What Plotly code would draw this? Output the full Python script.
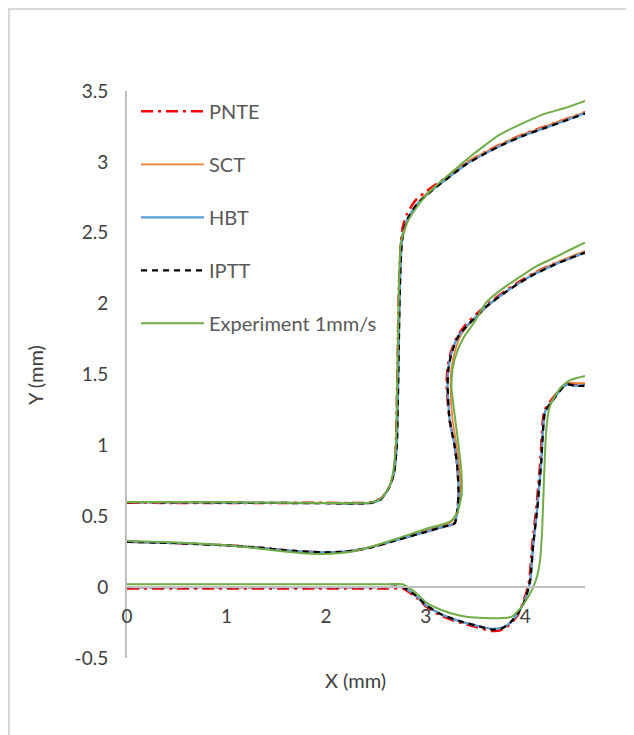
import plotly.graph_objects as go

# ---------------- data ----------------
SERIES = ["PNTE", "SCT", "HBT", "IPTT", "Experiment 1mm/s"]

# IPTT
IPTT_TOP_X = [0, 0.5, 1.0, 1.5, 2.0, 2.3, 2.45, 2.55, 2.63, 2.68, 2.71, 2.72, 2.73, 2.74, 2.76, 2.78, 2.82, 2.91, 3.0, 3.1, 3.25, 3.4, 3.6, 3.8, 4.0, 4.2, 4.4, 4.6]
IPTT_TOP_Y = [0.60, 0.598, 0.596, 0.594, 0.592, 0.59, 0.595, 0.62, 0.70, 0.80, 1.0, 1.3, 1.7, 2.1, 2.43, 2.52, 2.60, 2.70, 2.76, 2.82, 2.90, 2.98, 3.06, 3.13, 3.19, 3.24, 3.29, 3.34]
IPTT_MID_X = [0, 0.5, 1.0, 1.3, 1.6, 1.8, 2.05, 2.25, 2.45, 2.7, 3.0, 3.2, 3.29, 3.31, 3.33, 3.32, 3.29, 3.24, 3.22, 3.23, 3.26, 3.32, 3.41, 3.51, 3.61, 3.8, 3.95, 4.1, 4.28, 4.45, 4.6]
IPTT_MID_Y = [0.32, 0.31, 0.295, 0.28, 0.26, 0.25, 0.245, 0.255, 0.28, 0.33, 0.39, 0.43, 0.45, 0.50, 0.65, 0.83, 1.0, 1.18, 1.42, 1.55, 1.65, 1.76, 1.84, 1.91, 1.98, 2.08, 2.15, 2.21, 2.27, 2.32, 2.36]
IPTT_BOT_X = [0, 1.0, 2.0, 2.6, 2.77, 2.9, 3.01, 3.15, 3.34, 3.5, 3.67, 3.77, 3.85, 3.93, 3.98, 4.02, 4.05, 4.08, 4.12, 4.16, 4.20, 4.26, 4.32, 4.38, 4.43, 4.5, 4.6]
IPTT_BOT_Y = [0.0, 0.0, 0.0, 0.0, 0.0, -0.06, -0.13, -0.19, -0.24, -0.27, -0.30, -0.29, -0.25, -0.18, -0.12, -0.04, 0.05, 0.30, 0.55, 0.88, 1.24, 1.30, 1.36, 1.41, 1.43, 1.42, 1.42]

# HBT
HBT_TOP_X = [0, 0.5, 1.0, 1.5, 2.0, 2.3, 2.45, 2.55, 2.63, 2.68, 2.71, 2.72, 2.73, 2.74, 2.76, 2.78, 2.82, 2.91, 3.0, 3.1, 3.25, 3.4, 3.6, 3.8, 4.0, 4.2, 4.4, 4.6]
HBT_TOP_Y = [0.60, 0.598, 0.596, 0.594, 0.592, 0.59, 0.595, 0.62, 0.70, 0.80, 1.0, 1.3, 1.7, 2.1, 2.43, 2.52, 2.60, 2.70, 2.76, 2.82, 2.90, 2.98, 3.06, 3.13, 3.19, 3.24, 3.29, 3.345]
HBT_MID_X = [0, 0.5, 1.0, 1.3, 1.6, 1.8, 2.05, 2.25, 2.45, 2.7, 3.0, 3.2, 3.29, 3.31, 3.33, 3.32, 3.29, 3.24, 3.22, 3.23, 3.26, 3.32, 3.41, 3.51, 3.61, 3.8, 3.95, 4.1, 4.28, 4.45, 4.6]
HBT_MID_Y = [0.32, 0.31, 0.295, 0.28, 0.26, 0.25, 0.245, 0.255, 0.28, 0.33, 0.39, 0.43, 0.45, 0.50, 0.65, 0.83, 1.0, 1.18, 1.42, 1.55, 1.65, 1.76, 1.84, 1.91, 1.98, 2.08, 2.15, 2.21, 2.27, 2.32, 2.36]
HBT_BOT_X = [0, 1.0, 2.0, 2.6, 2.77, 2.9, 3.01, 3.15, 3.34, 3.5, 3.67, 3.77, 3.85, 3.93, 3.98, 4.02, 4.05, 4.08, 4.12, 4.16, 4.20, 4.26, 4.32, 4.38, 4.43, 4.5, 4.6]
HBT_BOT_Y = [0.0, 0.0, 0.0, 0.0, 0.0, -0.06, -0.13, -0.19, -0.24, -0.27, -0.295, -0.285, -0.25, -0.18, -0.12, -0.04, 0.05, 0.30, 0.55, 0.88, 1.24, 1.30, 1.36, 1.41, 1.43, 1.42, 1.425]

# SCT
SCT_TOP_X = [0, 0.5, 1.0, 1.5, 2.0, 2.3, 2.45, 2.55, 2.63, 2.68, 2.71, 2.72, 2.73, 2.74, 2.76, 2.79, 2.83, 2.91, 3.0, 3.1, 3.25, 3.4, 3.6, 3.8, 4.0, 4.2, 4.4, 4.6]
SCT_TOP_Y = [0.60, 0.598, 0.596, 0.594, 0.592, 0.59, 0.595, 0.62, 0.70, 0.80, 1.0, 1.3, 1.7, 2.1, 2.43, 2.52, 2.60, 2.70, 2.77, 2.83, 2.91, 2.99, 3.07, 3.14, 3.20, 3.25, 3.30, 3.35]
SCT_MID_X = [0, 0.5, 1.0, 1.3, 1.6, 1.8, 2.05, 2.25, 2.45, 2.7, 3.0, 3.2, 3.27, 3.32, 3.35, 3.34, 3.31, 3.27, 3.25, 3.26, 3.29, 3.34, 3.42, 3.52, 3.62, 3.8, 3.95, 4.1, 4.28, 4.45, 4.6]
SCT_MID_Y = [0.32, 0.31, 0.295, 0.28, 0.26, 0.25, 0.245, 0.255, 0.285, 0.335, 0.40, 0.44, 0.47, 0.53, 0.66, 0.83, 1.0, 1.18, 1.42, 1.55, 1.65, 1.76, 1.84, 1.91, 1.98, 2.08, 2.15, 2.22, 2.28, 2.33, 2.37]
SCT_BOT_X = [0, 1.0, 2.0, 2.6, 2.77, 2.9, 3.01, 3.15, 3.34, 3.5, 3.67, 3.77, 3.85, 3.93, 3.98, 4.02, 4.05, 4.08, 4.12, 4.16, 4.20, 4.26, 4.32, 4.38, 4.43, 4.5, 4.6]
SCT_BOT_Y = [0.0, 0.0, 0.0, 0.0, 0.0, -0.06, -0.13, -0.19, -0.24, -0.27, -0.295, -0.285, -0.25, -0.18, -0.12, -0.04, 0.05, 0.30, 0.55, 0.88, 1.24, 1.31, 1.37, 1.42, 1.44, 1.44, 1.44]

# PNTE
PNTE_TOP_X = [0, 0.5, 1.0, 1.5, 2.0, 2.3, 2.45, 2.55, 2.63, 2.68, 2.70, 2.71, 2.72, 2.73, 2.75, 2.77, 2.81, 2.90, 3.0, 3.1, 3.25, 3.4, 3.6, 3.8, 4.0, 4.2, 4.4, 4.6]
PNTE_TOP_Y = [0.595, 0.594, 0.593, 0.594, 0.595, 0.593, 0.598, 0.625, 0.70, 0.80, 1.0, 1.3, 1.7, 2.1, 2.43, 2.54, 2.63, 2.73, 2.79, 2.84, 2.91, 2.99, 3.07, 3.14, 3.20, 3.25, 3.30, 3.35]
PNTE_MID_X = [0, 0.5, 1.0, 1.3, 1.6, 1.8, 2.05, 2.25, 2.45, 2.7, 3.0, 3.2, 3.29, 3.31, 3.33, 3.32, 3.29, 3.24, 3.21, 3.22, 3.25, 3.31, 3.40, 3.50, 3.61, 3.8, 3.95, 4.1, 4.28, 4.45, 4.6]
PNTE_MID_Y = [0.32, 0.31, 0.295, 0.28, 0.26, 0.25, 0.245, 0.255, 0.28, 0.33, 0.39, 0.43, 0.45, 0.50, 0.65, 0.83, 1.0, 1.18, 1.42, 1.55, 1.65, 1.76, 1.85, 1.92, 1.99, 2.09, 2.16, 2.22, 2.28, 2.32, 2.36]
PNTE_BOT_X = [0, 1.0, 2.0, 2.6, 2.77, 2.9, 3.01, 3.15, 3.34, 3.5, 3.67, 3.77, 3.85, 3.93, 3.97, 4.01, 4.04, 4.07, 4.11, 4.15, 4.19, 4.25, 4.32, 4.38, 4.43, 4.5, 4.6]
PNTE_BOT_Y = [-0.01, -0.01, -0.01, -0.01, -0.01, -0.07, -0.14, -0.20, -0.25, -0.28, -0.31, -0.30, -0.26, -0.19, -0.12, -0.04, 0.05, 0.30, 0.55, 0.88, 1.24, 1.31, 1.37, 1.42, 1.44, 1.43, 1.43]

# Experiment 1mm/s
EXP_TOP_X = [0, 0.5, 1.0, 1.5, 2.0, 2.3, 2.45, 2.55, 2.63, 2.67, 2.70, 2.71, 2.72, 2.73, 2.75, 2.78, 2.82, 2.91, 3.0, 3.1, 3.25, 3.4, 3.6, 3.74, 4.0, 4.2, 4.4, 4.6]
EXP_TOP_Y = [0.60, 0.60, 0.598, 0.596, 0.594, 0.592, 0.598, 0.625, 0.70, 0.80, 1.0, 1.3, 1.7, 2.1, 2.43, 2.51, 2.58, 2.68, 2.76, 2.83, 2.92, 3.01, 3.12, 3.19, 3.28, 3.34, 3.38, 3.43]
EXP_MID_X = [0, 0.5, 1.0, 1.3, 1.6, 1.8, 2.05, 2.25, 2.45, 2.7, 3.0, 3.2, 3.26, 3.32, 3.36, 3.36, 3.33, 3.29, 3.26, 3.27, 3.31, 3.38, 3.48, 3.61, 3.8, 3.95, 4.1, 4.28, 4.45, 4.6]
EXP_MID_Y = [0.325, 0.315, 0.295, 0.275, 0.25, 0.238, 0.235, 0.25, 0.285, 0.34, 0.41, 0.45, 0.47, 0.53, 0.65, 0.80, 1.0, 1.22, 1.40, 1.54, 1.65, 1.76, 1.86, 2.01, 2.12, 2.19, 2.26, 2.32, 2.38, 2.43]
EXP_BOT_X = [0, 1.0, 2.0, 2.6, 2.77, 2.9, 3.01, 3.15, 3.34, 3.5, 3.67, 3.86, 3.95, 4.02, 4.08, 4.12, 4.15, 4.17, 4.19, 4.21, 4.24, 4.30, 4.36, 4.45, 4.6]
EXP_BOT_Y = [0.02, 0.02, 0.02, 0.02, 0.02, -0.04, -0.11, -0.16, -0.20, -0.215, -0.22, -0.21, -0.15, -0.08, 0.0, 0.08, 0.20, 0.41, 0.80, 1.10, 1.26, 1.35, 1.41, 1.46, 1.49]

Y_TICKS = [-0.5, 0, 0.5, 1, 1.5, 2, 2.5, 3, 3.5]
Y_TICK_TEXT = ["-0.5", "0", "0.5", "1", "1.5", "2", "2.5", "3", "3.5"]
X_TICKS = [0, 1, 2, 3, 4]
X_TICK_TEXT = ["0", "1", "2", "3", "4"]

# ---------------- figure ----------------
FONT = "Lato"
styles = {
    "PNTE": dict(color="#FF0000", width=2.5, dash="12px,5px,3px,5px"),
    "SCT": dict(color="#ED7D31", width=1.75, dash="solid"),
    "HBT": dict(color="#5B9BD5", width=2.25, dash="solid"),
    "IPTT": dict(color="#000000", width=2.25, dash="6px,5px"),
    "Experiment 1mm/s": dict(color="#70AD47", width=2, dash="solid"),
}
curves = {
    "PNTE": [(PNTE_TOP_X, PNTE_TOP_Y), (PNTE_MID_X, PNTE_MID_Y), (PNTE_BOT_X, PNTE_BOT_Y)],
    "SCT": [(SCT_TOP_X, SCT_TOP_Y), (SCT_MID_X, SCT_MID_Y), (SCT_BOT_X, SCT_BOT_Y)],
    "HBT": [(HBT_TOP_X, HBT_TOP_Y), (HBT_MID_X, HBT_MID_Y), (HBT_BOT_X, HBT_BOT_Y)],
    "IPTT": [(IPTT_TOP_X, IPTT_TOP_Y), (IPTT_MID_X, IPTT_MID_Y), (IPTT_BOT_X, IPTT_BOT_Y)],
    "Experiment 1mm/s": [(EXP_TOP_X, EXP_TOP_Y), (EXP_MID_X, EXP_MID_Y), (EXP_BOT_X, EXP_BOT_Y)],
}

fig = go.Figure()
for name in SERIES:
    for i, (xs, ys) in enumerate(curves[name]):
        fig.add_trace(go.Scatter(
            x=xs, y=ys, mode="lines", name=name, legendgroup=name,
            showlegend=(i == 0),
            line=dict(shape="spline", smoothing=0.6, **styles[name]),
        ))

# page has an 8px body margin, so the figure is 8px smaller than the window
fig.update_layout(
    width=626, height=727,
    margin=dict(l=119, r=49, t=83, b=77),
    paper_bgcolor="white", plot_bgcolor="white",
    font=dict(family=FONT, size=19, color="#404040"),
    showlegend=True,
    legend=dict(
        x=0.0197, y=0.9985, xanchor="left", yanchor="top",
        bgcolor="rgba(0,0,0,0)", font=dict(family=FONT, size=20, color="#595959"),
        traceorder="grouped", tracegroupgap=24, itemwidth=63,
    ),
    xaxis=dict(
        range=[0, 4.6], tickvals=X_TICKS, ticktext=X_TICK_TEXT,
        anchor="free", position=0.125,
        showline=True, linecolor="#BFBFBF", linewidth=2,
        showgrid=False, zeroline=False, ticks="", ticklabelstandoff=12,
        tickfont=dict(family=FONT, size=19, color="#404040"),
    ),
    yaxis=dict(
        range=[-0.5, 3.5], tickvals=Y_TICKS, ticktext=Y_TICK_TEXT,
        showline=True, linecolor="#BFBFBF", linewidth=2,
        showgrid=False, zeroline=False, ticks="", ticklabelstandoff=13,
        tickfont=dict(family=FONT, size=19, color="#404040"),
    ),
    annotations=[
        dict(text="Y (mm)", xref="paper", yref="paper", x=-0.2009, y=0.499,
             xanchor="center", yanchor="middle",
             textangle=-90, showarrow=False, font=dict(family=FONT, size=20, color="#404040")),
        dict(text="X (mm)", xref="paper", yref="paper", x=0.498, y=-0.0388,
             xanchor="center", yanchor="middle",
             showarrow=False, font=dict(family=FONT, size=20, color="#404040")),
    ],
    shapes=[
        dict(type="rect", xref="paper", yref="paper", x0=-0.2576, x1=1.3, y0=-0.3, y1=1.1446,
             line=dict(color="#D9D9D9", width=2), fillcolor="rgba(0,0,0,0)", layer="below"),
    ],
)

fig.write_html("out.html")
